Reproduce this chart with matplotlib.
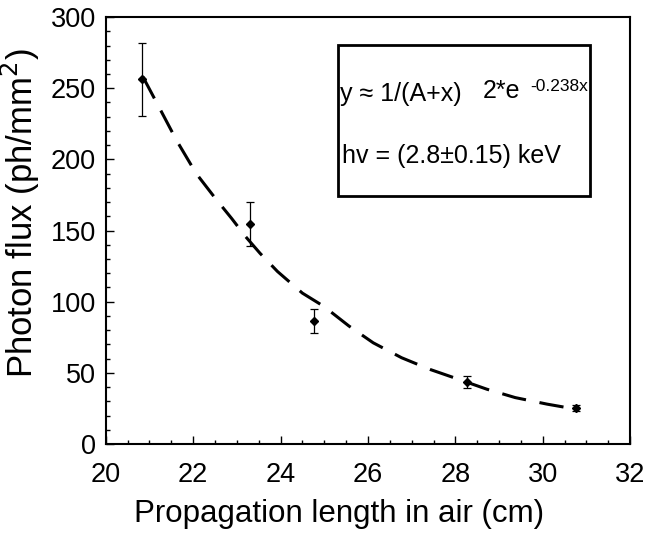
#!/usr/bin/python
# -*- encoding: UTF-8 -*-
'''Photon flux vs propagation length in air'''

import matplotlib
matplotlib.use('Agg')
import matplotlib.pyplot as plt
from matplotlib.ticker import MultipleLocator

#==============================================================================
# measured points (cm, ph/mm^2) with asymmetric error bars
length = [20.84, 23.30, 24.77, 28.26, 30.77]
flux = [256.5, 154.5, 86.5, 43.6, 25.4]
err_lo = [25.7, 15.1, 8.4, 4.4, 2.3]
err_hi = [25.5, 15.7, 8.4, 4.2, 2.1]

# fitted curve
fit_x = [20.85, 21.22, 21.62, 22.07, 22.51, 22.88, 23.20, 23.53, 23.93,
         24.50, 24.99, 25.56, 26.12, 26.77, 27.42, 28.07, 28.72, 29.37,
         30.10, 30.75]
fit_y = [258.0, 236.6, 213.3, 190.0, 172.5, 158.5, 145.7, 134.0, 121.2,
         106.0, 96.7, 83.0, 71.1, 60.6, 52.4, 45.5, 38.5, 32.6,
         28.0, 24.5]

x_ticks = [20, 22, 24, 26, 28, 30, 32]
y_ticks = [0, 50, 100, 150, 200, 250, 300]

#==============================================================================
def main():
    plt.rcParams['font.family'] = ['Liberation Sans', 'DejaVu Sans']
    fig = plt.figure(figsize=(6.45, 5.33), dpi=100)
    ax = fig.add_axes([0.164, 0.167, 0.813, 0.801])

    ax.plot(fit_x, fit_y, color='black', lw=2.2, dashes=(8, 4.5),
            zorder=2)
    ax.errorbar(length, flux, yerr=[err_lo, err_hi], fmt='D',
                color='black', ms=4, ecolor='black', elinewidth=0.9,
                capsize=3, capthick=0.9, zorder=3)

    ax.set_xlim(20, 32)
    ax.set_ylim(0, 300)
    ax.set_xticks(x_ticks)
    ax.set_yticks(y_ticks)
    ax.xaxis.set_minor_locator(MultipleLocator(0.5))
    ax.yaxis.set_minor_locator(MultipleLocator(10))
    ax.tick_params(which='both', direction='in', top=False, right=False,
                   labelsize=19.5, width=1.0)
    ax.tick_params(axis='x', which='major', pad=13)
    ax.tick_params(axis='y', which='major', pad=7)
    ax.tick_params(which='major', length=6)
    ax.tick_params(which='minor', length=3)
    for sp in ax.spines.values():
        sp.set_linewidth(1.5)

    ax.set_xlabel('Propagation length in air (cm)', fontsize=22.5)
    ax.xaxis.set_label_coords(0.445, -0.128)
    ax.set_ylabel('Photon flux (ph/mm$^2$)', fontsize=25)
    ax.yaxis.set_label_coords(-0.122, 0.54)

    # annotation box
    box = plt.Rectangle((0.442, 0.58), 0.482, 0.354,
                        transform=ax.transAxes, fill=False,
                        lw=2.0, edgecolor='black', zorder=4)
    ax.add_patch(box)
    ax.text(0.447, 0.82, 'y \u2248 1/(A+x)', transform=ax.transAxes,
            fontsize=18, va='center', ha='left')
    ax.text(0.719, 0.826, '2*e', transform=ax.transAxes,
            fontsize=18, va='center', ha='left')
    ax.text(0.81, 0.838, '-0.238x', transform=ax.transAxes,
            fontsize=12.5, va='center', ha='left')
    ax.text(0.450, 0.675, 'hv = (2.8\u00b10.15) keV',
            transform=ax.transAxes, fontsize=18, va='center', ha='left')

    fig.savefig('out.png', dpi=100)

#==============================================================================
if __name__ == '__main__': main()
